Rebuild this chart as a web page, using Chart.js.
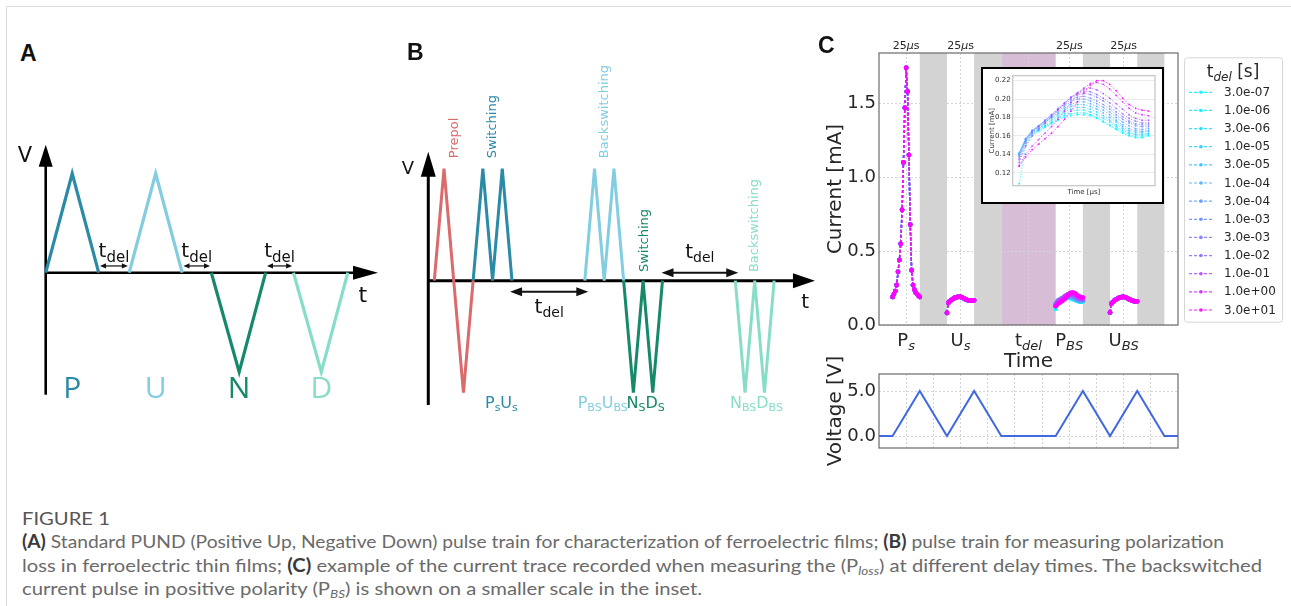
<!DOCTYPE html>
<html>
<head>
<meta charset="utf-8">
<script src="https://cdn.jsdelivr.net/npm/chart.js@4.4.1/dist/chart.umd.min.js"></script>
<style>
html, body { margin: 0; padding: 0; background: #fff; }
#page { position: relative; width: 1291px; height: 606px; overflow: hidden; background: #fff; }
.rule-top { position: absolute; left: 6px; top: 6px; right: 0; height: 1px; background: #dcdcdc; }
.rule-left { position: absolute; left: 6px; top: 6px; bottom: 0; width: 1px; background: #dcdcdc; }
canvas { position: absolute; }
.panel { position: absolute; font: bold 23px 'Liberation Sans', Arial, sans-serif; line-height: 23px; color: #111; }
.cap { position: absolute; left: 22px; white-space: nowrap; font-family: Lato, 'Open Sans', sans-serif; font-size: 18px; line-height: 20px; color: #6a6a6a; transform-origin: 0 50%; }
.cap b { color: #3a3a3a; }
.cap sub { font-size: 12px; font-style: italic; vertical-align: -3px; line-height: 0; }
</style>
</head>
<body>
<div id="page">
  <div class="rule-top"></div>
  <div class="rule-left"></div>

  <canvas id="chartA" width="400" height="320" style="left:0px;top:100px"></canvas>
  <canvas id="chartB" width="420" height="380" style="left:400px;top:40px"></canvas>
  <canvas id="chartC" width="476" height="345" style="left:815px;top:30px"></canvas>
  <canvas id="chartInset" width="184" height="138" style="left:981px;top:67px;z-index:2"></canvas>
  <canvas id="chartVolt" width="370" height="130" style="left:815px;top:340px"></canvas>

  <div class="panel" style="left:20px;top:42px">A</div>
  <div class="panel" style="left:407px;top:41px">B</div>
  <div class="panel" style="left:818px;top:34px">C</div>

  <div class="cap" id="cap0" style="top:508px;color:#555">FIGURE 1</div>
  <div class="cap" id="cap1" style="top:531px"><b>(A)</b> Standard PUND (Positive Up, Negative Down) pulse train for characterization of ferroelectric films; <b>(B)</b> pulse train for measuring polarization</div>
  <div class="cap" id="cap2" style="top:555px">loss in ferroelectric thin films; <b>(C)</b> example of the current trace recorded when measuring the (P<sub>loss</sub>) at different delay times. The backswitched</div>
  <div class="cap" id="cap3" style="top:578px">current pulse in positive polarity (P<sub>BS</sub>) is shown on a smaller scale in the inset.</div>
</div>

<script>
// --- Panel A: standard PUND train (time in ramp units, voltage normalised) ---
const pundNames = ['P', 'U', 'N', 'D'];
const pundT = [[0, 1, 2], [3.15, 4.15, 5.15], [6.25, 7.3, 8.3], [9.35, 10.4, 11.4]];
const pundV = [[0, 1, 0], [0, 1, 0], [0, -1, 0], [0, -1, 0]];

// --- Panel B: polarization loss train ---
const lossTags = ['Prepol', 'Switching', 'Backswitching', 'Switching', 'Backswitching'];
const lossT = [[0, 1, 2, 3, 4], [4, 5, 6, 7, 8], [15.5, 16.5, 17.5, 18.5, 19.5], [19.5, 20.5, 21.5, 22.5, 23.5], [31, 32, 33, 34, 35]];
const lossV = [[0, 1, 0, -1, 0], [0, 1, 0, 1, 0], [0, 1, 0, 1, 0], [0, -1, 0, -1, 0], [0, -1, 0, -1, 0]];
const lossNames = [[['P', 's'], ['U', 's']], [['P', 'BS'], ['U', 'BS']], [['N', 'S'], ['D', 'S']], [['N', 'BS'], ['D', 'BS']]];

// --- Panel C: current traces (mA) for each delay time ---
const tdelValues = [3e-7, 1e-6, 3e-6, 1e-5, 3e-5, 1e-4, 3e-4, 1e-3, 3e-3, 1e-2, 1e-1, 1, 30];
const tdelLabels = ['3.0e-07', '1.0e-06', '3.0e-06', '1.0e-05', '3.0e-05', '1.0e-04', '3.0e-04', '1.0e-03', '3.0e-03', '1.0e-02', '1.0e-01', '1.0e+00', '3.0e+01'];
const pulseOffsets = [0, 0.05, 0.1, 0.15, 0.2, 0.25, 0.3, 0.35, 0.4, 0.45, 0.5, 0.55, 0.6, 0.65, 0.7, 0.75, 0.8, 0.85, 0.9, 0.95, 1.0];
const pulseStarts = [0, 2, 6, 8]; // Ps, Us, PBS, UBS
const psCurrent = [0.19, 0.21, 0.23, 0.27, 0.36, 0.44, 0.55, 0.78, 1.10, 1.47, 1.74, 1.58, 1.15, 0.68, 0.37, 0.27, 0.24, 0.22, 0.21, 0.20, 0.19];
const usCurrent = [0.082, 0.150, 0.160, 0.167, 0.174, 0.180, 0.185, 0.188, 0.190, 0.191, 0.190, 0.187, 0.183, 0.178, 0.173, 0.169, 0.166, 0.165, 0.165, 0.166, 0.167];
const ubsCurrent = [0.085, 0.145, 0.155, 0.163, 0.170, 0.176, 0.181, 0.185, 0.188, 0.190, 0.190, 0.188, 0.184, 0.179, 0.174, 0.170, 0.166, 0.163, 0.161, 0.160, 0.160];
const pbsCurrent = [
    [0.108, 0.149, 0.160, 0.165, 0.169, 0.173, 0.177, 0.180, 0.182, 0.183, 0.183, 0.182, 0.179, 0.175, 0.171, 0.167, 0.163, 0.160, 0.158, 0.158, 0.160],
    [0.139, 0.154, 0.162, 0.166, 0.170, 0.174, 0.178, 0.182, 0.184, 0.185, 0.185, 0.183, 0.180, 0.176, 0.172, 0.168, 0.164, 0.161, 0.159, 0.159, 0.161],
    [0.140, 0.155, 0.163, 0.167, 0.171, 0.175, 0.180, 0.184, 0.187, 0.188, 0.188, 0.186, 0.183, 0.179, 0.175, 0.170, 0.166, 0.163, 0.161, 0.161, 0.162],
    [0.141, 0.156, 0.164, 0.168, 0.172, 0.177, 0.182, 0.186, 0.189, 0.191, 0.191, 0.189, 0.186, 0.182, 0.177, 0.172, 0.168, 0.164, 0.162, 0.162, 0.163],
    [0.142, 0.157, 0.165, 0.169, 0.174, 0.179, 0.184, 0.188, 0.192, 0.194, 0.194, 0.192, 0.189, 0.185, 0.180, 0.175, 0.170, 0.166, 0.164, 0.164, 0.165],
    [0.141, 0.157, 0.165, 0.170, 0.175, 0.180, 0.185, 0.190, 0.194, 0.197, 0.197, 0.195, 0.192, 0.188, 0.183, 0.177, 0.172, 0.168, 0.166, 0.165, 0.166],
    [0.140, 0.157, 0.166, 0.171, 0.176, 0.181, 0.187, 0.192, 0.197, 0.200, 0.200, 0.198, 0.195, 0.191, 0.186, 0.180, 0.175, 0.171, 0.168, 0.167, 0.168],
    [0.138, 0.156, 0.166, 0.171, 0.177, 0.182, 0.188, 0.194, 0.199, 0.202, 0.203, 0.201, 0.198, 0.194, 0.189, 0.183, 0.178, 0.174, 0.171, 0.170, 0.170],
    [0.136, 0.154, 0.165, 0.171, 0.177, 0.183, 0.189, 0.195, 0.201, 0.205, 0.206, 0.205, 0.202, 0.198, 0.192, 0.186, 0.181, 0.176, 0.173, 0.172, 0.172],
    [0.134, 0.152, 0.163, 0.170, 0.176, 0.183, 0.190, 0.196, 0.202, 0.206, 0.209, 0.208, 0.205, 0.201, 0.196, 0.190, 0.184, 0.179, 0.176, 0.174, 0.174],
    [0.131, 0.149, 0.160, 0.167, 0.174, 0.181, 0.188, 0.195, 0.202, 0.207, 0.211, 0.212, 0.210, 0.206, 0.201, 0.195, 0.189, 0.183, 0.179, 0.177, 0.177],
    [0.128, 0.140, 0.149, 0.156, 0.163, 0.170, 0.178, 0.187, 0.196, 0.205, 0.212, 0.217, 0.218, 0.216, 0.211, 0.204, 0.197, 0.190, 0.185, 0.183, 0.182],
    [0.127, 0.137, 0.145, 0.151, 0.157, 0.163, 0.170, 0.178, 0.187, 0.197, 0.207, 0.215, 0.220, 0.220, 0.216, 0.209, 0.201, 0.194, 0.190, 0.188, 0.187]
];
const xTickPos = [0.5, 2.5, 5, 6.5, 8.5];
const xTickMain = ['P', 'U', 't', 'P', 'U'];
const xTickSub = ['s', 's', 'del', 'BS', 'BS'];
const widthMarks = [0.5, 2.5, 6.5, 8.5];
const grayBands = [[1, 2], [3, 4], [7, 8], [9, 10]];
const delayBand = [4, 6];
const currentTicks = [0, 0.5, 1.0, 1.5];
const insetTicks = [0.12, 0.14, 0.16, 0.18, 0.20, 0.22];

// --- Panel C bottom: applied voltage ---
const voltT = [-0.5, 0, 1, 2, 3, 4, 6, 7, 8, 9, 10, 10.5];
const voltV = [0, 0, 5, 0, 5, 0, 0, 5, 0, 5, 0, 0];
const voltTicks = [0, 5];
const voltGridT = [0.5, 1.5, 2.5, 3.5, 4.5, 5.5, 6.5, 7.5, 8.5, 9.5];

// --- colours ---
const TEAL = '#2b8aa6', LIGHT = '#82cde0', GREEN = '#17896b', MINT = '#88ddc9', RED = '#db6a6b';
const pundColors = [TEAL, LIGHT, GREEN, MINT];
const lossColors = [RED, TEAL, LIGHT, GREEN, MINT];
const lossNameColors = [TEAL, LIGHT, GREEN, MINT];

Chart.defaults.font.family = "'DejaVu Sans', sans-serif";
Chart.defaults.color = '#262626';

function coolColor(t, a) {
    const lo = Math.log10(tdelValues[0]), hi = Math.log10(tdelValues[tdelValues.length - 1]);
    const f = (Math.log10(t) - lo) / (hi - lo);
    return `rgba(${Math.round(255 * f)},${Math.round(255 * (1 - f))},255,${a})`;
}

// maps a canvas box onto data units (px = origin + k*u)
function spanX(left, width, origin, k) { return { min: (left - origin) / k, max: (left + width - origin) / k }; }
function spanY(top, height, origin, k) { return { min: (origin - top - height) / k, max: (origin - top) / k }; }

function arrow(ctx, x1, y1, x2, y2, lw, hl, hw, both) {
    const a = Math.atan2(y2 - y1, x2 - x1), c = Math.cos(a), s = Math.sin(a);
    const head = (x, y, cc, ss) => {
        ctx.beginPath();
        ctx.moveTo(x, y);
        ctx.lineTo(x - hl * cc + hw * ss, y - hl * ss - hw * cc);
        ctx.lineTo(x - hl * cc - hw * ss, y - hl * ss + hw * cc);
        ctx.closePath();
        ctx.fill();
    };
    ctx.lineWidth = lw;
    ctx.beginPath();
    ctx.moveTo(both ? x1 + hl * 0.7 * c : x1, both ? y1 + hl * 0.7 * s : y1);
    ctx.lineTo(x2 - hl * 0.7 * c, y2 - hl * 0.7 * s);
    ctx.stroke();
    head(x2, y2, c, s);
    if (both) head(x1, y1, -c, -s);
}

// parts: [text, font, dy]
function richText(ctx, x, y, parts, align) {
    let w = 0;
    const widths = parts.map(p => { ctx.font = p[1]; const m = ctx.measureText(p[0]).width; w += m; return m; });
    let cx = align === 'center' ? x - w / 2 : (align === 'right' ? x - w : x);
    ctx.textAlign = 'left';
    ctx.textBaseline = 'alphabetic';
    parts.forEach((p, i) => { ctx.font = p[1]; ctx.fillText(p[0], cx, y + (p[2] || 0)); cx += widths[i]; });
}

const hiddenScales = (sx, sy) => ({
    x: { type: 'linear', display: false, min: sx.min, max: sx.max },
    y: { type: 'linear', display: false, min: sy.min, max: sy.max }
});

// --- 1. Panel A ---
const pundPlugin = {
    id: 'pund',
    beforeDatasetsDraw(chart) {
        const { ctx, scales: { x, y } } = chart;
        ctx.save();
        ctx.strokeStyle = '#000';
        ctx.fillStyle = '#000';
        arrow(ctx, x.getPixelForValue(0), y.getPixelForValue(-1.23), x.getPixelForValue(0), y.getPixelForValue(1.29), 2.6, 22, 7);
        arrow(ctx, x.getPixelForValue(0), y.getPixelForValue(0), x.getPixelForValue(12.54), y.getPixelForValue(0), 2.6, 25, 7);
        ctx.restore();
    },
    afterDatasetsDraw(chart) {
        const { ctx, scales: { x, y } } = chart;
        ctx.save();
        ctx.fillStyle = '#111';
        ctx.strokeStyle = '#111';
        richText(ctx, x.getPixelForValue(-0.78), y.getPixelForValue(1.119), [['V', "21px 'DejaVu Sans'"]], 'center');
        richText(ctx, x.getPixelForValue(11.97), y.getPixelForValue(-0.292), [['t', "22px 'DejaVu Sans'"]], 'center');
        [[2.05, 3.1], [5.2, 6.2], [8.35, 9.3]].forEach(d => {
            arrow(ctx, x.getPixelForValue(d[0]), y.getPixelForValue(0.068), x.getPixelForValue(d[1]), y.getPixelForValue(0.068), 1.2, 6, 2.6, true);
            richText(ctx, x.getPixelForValue((d[0] + d[1]) / 2), y.getPixelForValue(0.158),
                [['t', "20px 'DejaVu Sans'"], ['del', "15px 'DejaVu Sans'", 5]], 'center');
        });
        pundNames.forEach((n, i) => {
            ctx.fillStyle = pundColors[i];
            richText(ctx, x.getPixelForValue(pundT[i][1]), y.getPixelForValue(-1.263), [[n, "30px 'Open Sans'"]], 'center');
        });
        ctx.restore();
    }
};

new Chart(document.getElementById('chartA'), {
    type: 'line',
    data: {
        datasets: pundT.map((ts, i) => ({
            data: ts.map((t, j) => ({ x: t, y: pundV[i][j] })),
            borderColor: pundColors[i], borderWidth: 3.2, pointRadius: 0, tension: 0,
            borderJoinStyle: 'miter', clip: false
        }))
    },
    options: {
        responsive: false, animation: false, events: [], devicePixelRatio: 1,
        plugins: { legend: { display: false }, tooltip: { enabled: false } },
        scales: hiddenScales(spanX(0, 400, 45.7, 26.5), spanY(100, 320, 272.7, 99.2))
    },
    plugins: [pundPlugin]
});

// --- 2. Panel B ---
const lossPlugin = {
    id: 'loss',
    beforeDatasetsDraw(chart) {
        const { ctx, scales: { x, y } } = chart;
        ctx.save();
        ctx.strokeStyle = '#000';
        ctx.fillStyle = '#000';
        arrow(ctx, x.getPixelForValue(-0.62), y.getPixelForValue(-1.11), x.getPixelForValue(-0.62), y.getPixelForValue(1.152), 3, 25, 7.5);
        arrow(ctx, x.getPixelForValue(-0.62), y.getPixelForValue(0), x.getPixelForValue(39.2), y.getPixelForValue(0), 3, 22, 7.5);
        ctx.restore();
    },
    afterDatasetsDraw(chart) {
        const { ctx, scales: { x, y } } = chart;
        ctx.save();
        ctx.fillStyle = '#111';
        ctx.strokeStyle = '#111';
        richText(ctx, x.getPixelForValue(-2.72), y.getPixelForValue(0.957), [['V', "18px 'DejaVu Sans'"]], 'center');
        richText(ctx, x.getPixelForValue(38.2), y.getPixelForValue(-0.246), [['t', "20px 'DejaVu Sans'"]], 'center');
        [[7.8, 15.86, -0.098, -0.291], [23.4, 31.3, 0.071, 0.2]].forEach(d => {
            arrow(ctx, x.getPixelForValue(d[0]), y.getPixelForValue(d[2]), x.getPixelForValue(d[1]), y.getPixelForValue(d[2]), 2, 12, 4.5, true);
            richText(ctx, x.getPixelForValue((d[0] + d[1]) / 2), y.getPixelForValue(d[3]),
                [['t', "20px 'DejaVu Sans'"], ['del', "14px 'DejaVu Sans'", 4]], 'center');
        });
        // rotated tags above each group
        const tagAnchors = [[2.13, 1.094], [6.01, 1.094], [17.58, 1.094], [21.63, 0.077], [33.03, 0.077]];
        lossTags.forEach((tag, i) => {
            ctx.save();
            ctx.translate(x.getPixelForValue(tagAnchors[i][0]), y.getPixelForValue(tagAnchors[i][1]));
            ctx.rotate(-Math.PI / 2);
            ctx.font = "13px 'DejaVu Sans'";
            ctx.fillStyle = lossColors[i];
            ctx.textAlign = 'left';
            ctx.textBaseline = 'middle';
            ctx.fillText(tag, 0, 0);
            ctx.restore();
        });
        // pulse names under the axis
        const nameLeft = [5.22, 14.77, 19.8, 30.45];
        lossNames.forEach((pair, i) => {
            ctx.fillStyle = lossNameColors[i];
            const parts = [];
            pair.forEach(p => { parts.push([p[0], "16px 'DejaVu Sans'"]); parts.push([p[1], "11px 'DejaVu Sans'", 3]); });
            richText(ctx, x.getPixelForValue(nameLeft[i]), y.getPixelForValue(-1.137), parts, 'left');
        });
        ctx.restore();
    }
};

new Chart(document.getElementById('chartB'), {
    type: 'line',
    data: {
        datasets: lossT.map((ts, i) => ({
            data: ts.map((t, j) => ({ x: t, y: lossV[i][j] })),
            borderColor: lossColors[i], borderWidth: 3, pointRadius: 0, tension: 0,
            borderJoinStyle: 'miter', clip: false
        }))
    },
    options: {
        responsive: false, animation: false, events: [], devicePixelRatio: 1,
        plugins: { legend: { display: false }, tooltip: { enabled: false } },
        scales: hiddenScales(spanX(400, 420, 434.3, 9.71), spanY(40, 380, 280.7, 112))
    },
    plugins: [lossPlugin]
});

// --- 3. Panel C: current traces ---
function pulsePoints(start, values) { return values.map((v, i) => ({ x: start + pulseOffsets[i], y: v })); }
function traceFor(k, withOthers) {
    const gap = s => ({ x: s + 1.5, y: null });
    if (!withOthers) return pulsePoints(pulseStarts[2], pbsCurrent[k]);
    return [
        ...pulsePoints(pulseStarts[0], psCurrent), gap(pulseStarts[0]),
        ...pulsePoints(pulseStarts[1], usCurrent), gap(pulseStarts[1]),
        ...pulsePoints(pulseStarts[2], pbsCurrent[k]), gap(pulseStarts[2]),
        ...pulsePoints(pulseStarts[3], ubsCurrent)
    ];
}

const frameBox = color => ({
    id: 'frameBox',
    afterDraw(chart) {
        const { ctx, chartArea: a } = chart;
        ctx.save();
        ctx.strokeStyle = color;
        ctx.lineWidth = 1.2;
        ctx.strokeRect(a.left, a.top, a.right - a.left, a.bottom - a.top);
        ctx.restore();
    }
});

const bandsPlugin = {
    id: 'bands',
    beforeDraw(chart) {
        const { ctx, chartArea: a, scales: { x } } = chart;
        ctx.save();
        ctx.fillStyle = '#d3d3d3';
        grayBands.forEach(b => {
            const l = x.getPixelForValue(b[0]), r = x.getPixelForValue(b[1]);
            ctx.fillRect(l, a.top, r - l, a.bottom - a.top);
        });
        ctx.fillStyle = '#d8bdd7';
        const l = x.getPixelForValue(delayBand[0]), r = x.getPixelForValue(delayBand[1]);
        ctx.fillRect(l, a.top, r - l, a.bottom - a.top);
        ctx.restore();
    },
    afterDraw(chart) {
        const { ctx, chartArea: a, scales: { x } } = chart;
        ctx.save();
        ctx.fillStyle = '#262626';
        // pulse names on the time axis
        xTickPos.forEach((p, i) => {
            richText(ctx, x.getPixelForValue(p), a.bottom + 21,
                [[xTickMain[i], "18px 'DejaVu Sans'"], [xTickSub[i], "italic 13px 'DejaVu Sans'", 4]], 'center');
        });
        // pulse widths above the frame
        widthMarks.forEach(p => {
            richText(ctx, x.getPixelForValue(p), 19,
                [['25', "11px 'DejaVu Sans'"], ['\u03bc', "italic 11px 'DejaVu Sans'"], ['s', "11px 'DejaVu Sans'"]], 'center');
        });
        // legend
        const lx = 369, ly = 27.3, lw = 98, lh = 264.4;
        ctx.fillStyle = 'rgba(255,255,255,0.9)';
        ctx.strokeStyle = '#d6d6d6';
        ctx.lineWidth = 1;
        ctx.beginPath();
        ctx.roundRect(lx + 0.5, ly + 0.5, lw, lh, 3);
        ctx.fill();
        ctx.stroke();
        ctx.fillStyle = '#262626';
        richText(ctx, 418, 47, [['t', "17px 'DejaVu Sans'"], ['del', "italic 12px 'DejaVu Sans'", 4], [' [s]', "17px 'DejaVu Sans'"]], 'center');
        tdelLabels.forEach((lab, i) => {
            const yy = 62.3 + 18.14 * i;
            const col = coolColor(tdelValues[i], 0.9);
            ctx.strokeStyle = col;
            ctx.fillStyle = col;
            ctx.lineWidth = 1.2;
            ctx.setLineDash([3, 2]);
            ctx.beginPath();
            ctx.moveTo(374, yy);
            ctx.lineTo(398, yy);
            ctx.stroke();
            ctx.setLineDash([]);
            ctx.beginPath();
            ctx.arc(386, yy, 1.8, 0, Math.PI * 2);
            ctx.fill();
            ctx.fillStyle = '#262626';
            ctx.font = "12px 'DejaVu Sans'";
            ctx.textAlign = 'left';
            ctx.textBaseline = 'middle';
            ctx.fillText(lab, 409, yy + 0.5);
        });
        ctx.restore();
    }
};

new Chart(document.getElementById('chartC'), {
    type: 'line',
    data: {
        datasets: tdelValues.map((t, k) => ({
            label: tdelLabels[k],
            data: traceFor(k, true),
            order: tdelValues.length - 1 - k,
            borderColor: coolColor(t, 0.9), backgroundColor: coolColor(t, 0.9),
            borderWidth: 1.4, borderDash: [3, 2], pointRadius: 2.3, pointBorderWidth: 0,
            pointBackgroundColor: coolColor(t, 0.95), tension: 0, spanGaps: false
        }))
    },
    options: {
        responsive: false, animation: false, events: [], devicePixelRatio: 1,
        layout: { padding: { top: 23, right: 113, left: 0, bottom: 0 } },
        plugins: { legend: { display: false }, tooltip: { enabled: false } },
        scales: {
            x: {
                type: 'linear', min: -0.5, max: 10.5,
                afterBuildTicks: s => { s.ticks = xTickPos.map(v => ({ value: v })); },
                afterFit: s => { s.height = 50; },
                ticks: { display: false },
                grid: { color: '#d4d4d4', lineWidth: 1, drawTicks: false },
                border: { display: false, dash: [2, 2] },
                title: { display: true, text: 'Time', font: { size: 20 }, color: '#262626', padding: { top: 0, bottom: 1 } }
            },
            y: {
                type: 'linear', min: 0, max: 1.84,
                afterBuildTicks: s => { s.ticks = currentTicks.map(v => ({ value: v })); },
                afterFit: s => { s.width = 64; },
                ticks: { font: { size: 18 }, padding: 3, color: '#262626', callback: v => v.toFixed(1) },
                grid: { color: '#d4d4d4', lineWidth: 1, drawTicks: false },
                border: { display: false, dash: [2, 2] },
                title: { display: true, text: 'Current [mA]', font: { size: 20 }, color: '#262626', padding: { top: 9, bottom: 0 } }
            }
        }
    },
    plugins: [bandsPlugin, frameBox('#6b6b6b')]
});

// --- 4. Inset: backswitching pulse P_BS on a smaller scale ---
const insetBox = {
    id: 'insetBox',
    beforeDraw(chart) {
        const { ctx } = chart;
        ctx.save();
        ctx.fillStyle = '#fff';
        ctx.fillRect(0, 0, 183, 137);
        ctx.restore();
    },
    afterDraw(chart) {
        const { ctx } = chart;
        ctx.save();
        ctx.strokeStyle = '#000';
        ctx.lineWidth = 2;
        ctx.strokeRect(1, 1, 181, 135);
        ctx.restore();
    }
};

new Chart(document.getElementById('chartInset'), {
    type: 'line',
    data: {
        datasets: tdelValues.map((t, k) => ({
            data: traceFor(k, false),
            order: tdelValues.length - 1 - k,
            borderColor: coolColor(t, 0.85), backgroundColor: coolColor(t, 0.85),
            borderWidth: 0.8, borderDash: [1.5, 1.5], pointRadius: 0.9, pointBorderWidth: 0,
            pointBackgroundColor: coolColor(t, 0.9), tension: 0
        }))
    },
    options: {
        responsive: false, animation: false, events: [], devicePixelRatio: 1,
        layout: { padding: { top: 8.7, right: 10, left: 0, bottom: 0 } },
        plugins: { legend: { display: false }, tooltip: { enabled: false } },
        scales: {
            x: {
                type: 'linear', min: 5.95, max: 7.05,
                afterFit: s => { s.height = 19.3; },
                ticks: { display: false },
                grid: { display: false },
                border: { display: false },
                title: { display: true, text: 'Time [\u03bcs]', font: { size: 7 }, color: '#333', padding: { top: 0, bottom: 8.5 } }
            },
            y: {
                type: 'linear', min: 0.1059, max: 0.2254,
                afterBuildTicks: s => { s.ticks = insetTicks.map(v => ({ value: v })); },
                afterFit: s => { s.width = 31.7; },
                ticks: { font: { size: 7 }, padding: 2, color: '#333', callback: v => v.toFixed(2) },
                grid: { color: '#ececec', lineWidth: 1, drawTicks: false },
                border: { display: false },
                title: { display: true, text: 'Current [mA]', font: { size: 7 }, color: '#333', padding: { top: 6.5, bottom: 0 } }
            }
        }
    },
    plugins: [insetBox, frameBox('#c4c4c4')]
});

// --- 5. Applied voltage ---
new Chart(document.getElementById('chartVolt'), {
    type: 'line',
    data: {
        datasets: [{
            data: voltT.map((t, i) => ({ x: t, y: voltV[i] })),
            borderColor: '#4169e1', borderWidth: 2, pointRadius: 0, tension: 0
        }]
    },
    options: {
        responsive: false, animation: false, events: [], devicePixelRatio: 1,
        layout: { padding: { top: 34, right: 7, left: 0, bottom: 0 } },
        plugins: { legend: { display: false }, tooltip: { enabled: false } },
        scales: {
            x: {
                type: 'linear', min: -0.5, max: 10.5,
                afterBuildTicks: s => { s.ticks = voltGridT.map(v => ({ value: v })); },
                afterFit: s => { s.height = 22; },
                ticks: { display: false },
                grid: { color: '#d4d4d4', lineWidth: 1, drawTicks: false },
                border: { display: false, dash: [2, 2] }
            },
            y: {
                type: 'linear', min: -1.33, max: 6.89,
                afterBuildTicks: s => { s.ticks = voltTicks.map(v => ({ value: v })); },
                afterFit: s => { s.width = 64; },
                ticks: { font: { size: 18 }, padding: 3, color: '#262626', callback: v => v.toFixed(1) },
                grid: { color: '#d4d4d4', lineWidth: 1, drawTicks: false },
                border: { display: false, dash: [2, 2] },
                title: { display: true, text: 'Voltage [V]', font: { size: 20 }, color: '#262626', padding: { top: 9, bottom: 0 } }
            }
        }
    },
    plugins: [frameBox('#6b6b6b')]
});

// --- Caption: squeeze each line to the condensed width of the original ---
function fitCaption() {
    const rightEdges = { cap1: 1224, cap2: 1262, cap3: 702 };
    const ref = document.getElementById('cap2');
    const baseSqueeze = (rightEdges.cap2 - 22) / ref.getBoundingClientRect().width;
    Object.keys(rightEdges).forEach(id => {
        const el = document.getElementById(id);
        el.style.transform = `scaleX(${(rightEdges[id] - 22) / el.getBoundingClientRect().width})`;
    });
    document.getElementById('cap0').style.transform = `scaleX(${baseSqueeze})`;
}
fitCaption();
</script>
</body>
</html>
